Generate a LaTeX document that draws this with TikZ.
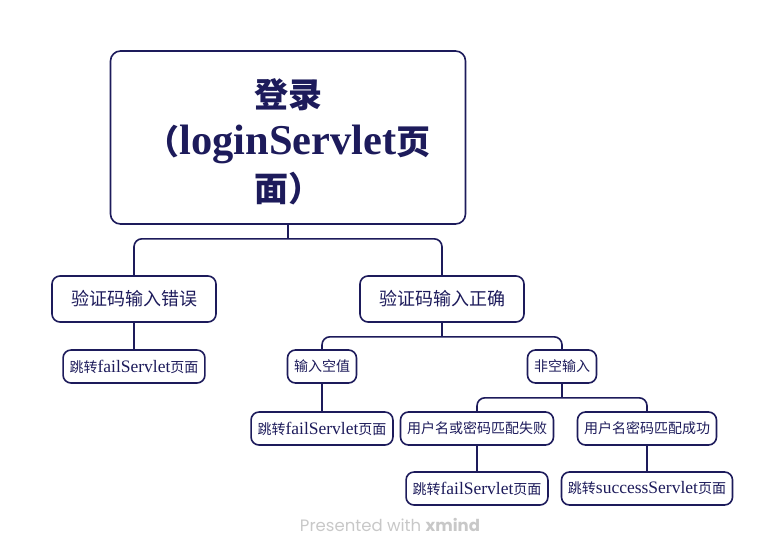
\documentclass[tikz,border=0pt]{standalone}
\usepackage{fontspec}
\setmainfont{Liberation Serif}[Scale=1.25]
\newfontfamily\cjk{Noto Sans CJK SC}
\newfontfamily\wmfont{Poppins}

\definecolor{inkblue}{RGB}{29,27,91}
\definecolor{wmgray}{RGB}{200,200,200}

\tikzset{
  box/.style={draw=inkblue, line width=1.6pt, fill=white, text=inkblue,
    align=center, rounded corners=8pt},
  root/.style={box, rounded corners=10pt, minimum width=355pt, minimum height=173pt,
    font=\cjk\bfseries\fontsize{34}{47}\selectfont},
  topic/.style={box, minimum height=46pt, inner xsep=19pt,
    font=\cjk\fontsize{18}{20}\selectfont},
  leaf/.style={box, minimum height=33pt, inner xsep=6.5pt,
    font=\cjk\fontsize{14}{16}\selectfont},
  branch/.style={draw=inkblue, line width=1.6pt},
}

\begin{document}
\begin{tikzpicture}[x=1pt, y=-1pt]
  \useasboundingbox (0,0) rectangle (781,557);

  % --- Root ---
  \node[root] (login) at (288,137.5) {\rule{0pt}{38pt}登录\\（{\rmfamily loginServlet}页\\面）};

  % --- Captcha check ---
  \node[topic] (capwrong) at (134,299) {验证码输入错误};
  \node[topic] (capright) at (442,299) {验证码输入正确};

  % --- Sub topics ---
  \node[leaf] (failA) at (134,366.5) {跳转{\rmfamily failServlet}页面};
  \node[leaf] (empty) at (322,366.5) {输入空值};
  \node[leaf] (nonempty) at (562,366.5) {非空输入};
  \node[leaf] (failB) at (322,428.5) {跳转{\rmfamily failServlet}页面};
  \node[leaf] (nomatch) at (477,428.5) {用户名或密码匹配失败};
  \node[leaf] (match) at (647,428.5) {用户名密码匹配成功};
  \node[leaf] (failC) at (477,488.5) {跳转{\rmfamily failServlet}页面};
  \node[leaf] (success) at (647,488.5) {跳转{\rmfamily successServlet}页面};

  % --- Connectors ---
  \draw[branch] (login.south) -- ++(0,14) coordinate (j1);
  \draw[branch, rounded corners=8pt] (capwrong.north) |- (j1) -| (capright.north);
  \draw[branch] (capwrong.south) -- (failA.north);
  \draw[branch] (capright.south) -- ++(0,14) coordinate (j2);
  \draw[branch, rounded corners=8pt] (empty.north) |- (j2) -| (nonempty.north);
  \draw[branch] (empty.south) -- (failB.north);
  \draw[branch] (nonempty.south) -- ++(0,14) coordinate (j3);
  \draw[branch, rounded corners=8pt] (nomatch.north) |- (j3) -| (match.north);
  \draw[branch] (nomatch.south) -- (failC.north);
  \draw[branch] (match.south) -- (success.north);

  % --- Footer ---
  \node[text=wmgray, font=\wmfont\fontsize{16.5}{19}\selectfont] (credit) at (390,525)
    {Presented with \textbf{xmind}};
\end{tikzpicture}
\end{document}
